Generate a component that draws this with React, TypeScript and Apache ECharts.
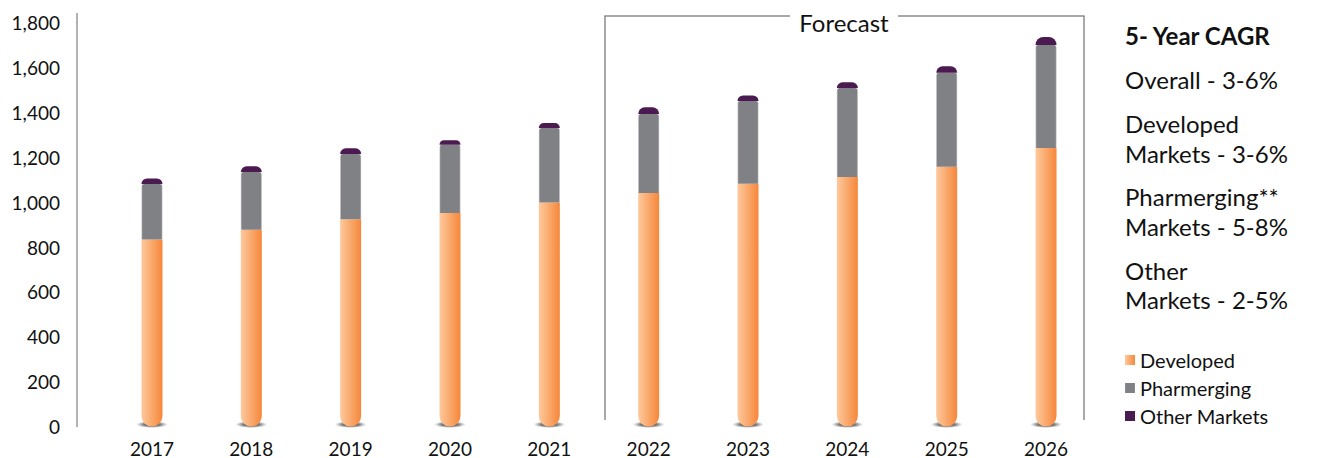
import React, { useEffect, useRef } from "react";
import * as echarts from "echarts";

const years = ["2017", "2018", "2019", "2020", "2021", "2022", "2023", "2024", "2025", "2026"];
const developed = [834, 877, 924, 952, 999, 1041, 1082, 1112, 1158, 1242];
const pharmerging = [247, 257, 291, 304, 332, 352, 369, 397, 419, 459];
const otherMarkets = [25, 26, 25, 20, 22, 30, 25, 25, 29, 35];
const baseShadow = [0, 0, 0, 0, 0, 0, 0, 0, 0, 0];
const seriesNames = ["Developed", "Pharmerging", "Other Markets"];
const cagrTitle = "5- Year CAGR";
const cagrLines = [
  "Overall - 3-6%",
  "Developed",
  "Markets - 3-6%",
  "Pharmerging**",
  "Markets - 5-8%",
  "Other",
  "Markets - 2-5%",
];
const forecastLabel = "Forecast";

const FONT = "Lato, 'Open Sans', sans-serif";

export default function App() {
  const ref = useRef<HTMLDivElement>(null);
  useEffect(() => {
    if (!ref.current) return;
    const chart = echarts.init(ref.current, null, { renderer: "svg" });
    const orange = new echarts.graphic.LinearGradient(0, 0, 1, 0, [
      { offset: 0, color: "#fdc99d" },
      { offset: 1, color: "#f6873a" },
    ]);
    const gray = new echarts.graphic.LinearGradient(0, 0, 1, 0, [
      { offset: 0, color: "#c4c4c6" },
      { offset: 0.06, color: "#808185" },
      { offset: 0.94, color: "#808185" },
      { offset: 1, color: "#c4c4c6" },
    ]);
    const purple = "#4b1a50";

    const cagrGraphics: any[] = [];
    cagrGraphics.push({
      type: "text",
      x: 1125,
      y: 35,
      style: { text: cagrTitle, font: `bold 24px ${FONT}`, fill: "#111", verticalAlign: "middle" },
    });
    const lineCenters = [79, 123, 153, 196, 226, 270, 299];
    cagrLines.forEach((line, i) => {
      cagrGraphics.push({
        type: "text",
        x: 1125,
        y: lineCenters[i],
        style: { text: line, font: `24px ${FONT}`, fill: "#111", verticalAlign: "middle" },
      });
    });

    const lineStyle = { stroke: "#8c8c8c", lineWidth: 1.5 };
    const option: any = {
      animation: false,
      textStyle: { fontFamily: FONT },
      grid: { left: 102.3, right: 229.3, top: 22.7, bottom: 31.5, containLabel: false },
      legend: {
        orient: "vertical",
        left: 1120,
        top: 345,
        itemWidth: 10,
        itemHeight: 10,
        itemGap: 8,
        icon: "rect",
        data: seriesNames,
        textStyle: { fontSize: 20, color: "#111", fontFamily: FONT },
      },
      xAxis: {
        type: "category",
        data: years,
        axisLine: { show: false },
        axisTick: { show: false },
        axisLabel: { fontSize: 19, color: "#111", margin: 12, fontFamily: FONT },
      },
      yAxis: {
        type: "value",
        min: 0,
        max: 1800,
        interval: 200,
        offset: 25.3,
        axisLine: { show: true, lineStyle: { color: "#9a9a9a", width: 1.5 } },
        axisTick: { show: false },
        splitLine: { show: false },
        axisLabel: {
          fontSize: 19,
          color: "#111",
          margin: 17,
          fontFamily: FONT,
          formatter: (v: number) => v.toLocaleString("en-US"),
        },
      },
      graphic: [
        { type: "line", shape: { x1: 77, y1: 13, x2: 77, y2: 23 }, style: { stroke: "#9a9a9a", lineWidth: 1.5 }, silent: true },
        { type: "line", shape: { x1: 605, y1: 16, x2: 605, y2: 420 }, style: lineStyle, silent: true },
        { type: "line", shape: { x1: 604.3, y1: 16, x2: 790, y2: 16 }, style: lineStyle, silent: true },
        { type: "line", shape: { x1: 898, y1: 16, x2: 1084.7, y2: 16 }, style: lineStyle, silent: true },
        { type: "line", shape: { x1: 1084, y1: 16, x2: 1084, y2: 420 }, style: lineStyle, silent: true },
        {
          type: "text",
          x: 844,
          y: 22,
          style: { text: forecastLabel, font: `24px ${FONT}`, fill: "#111", align: "center", verticalAlign: "middle" },
        },
        ...cagrGraphics,
      ],
      series: [
        {
          type: "scatter",
          data: baseShadow,
          symbol: "circle",
          symbolSize: [32, 7],
          symbolOffset: [0, -2],
          z: 1,
          silent: true,
          itemStyle: {
            color: new echarts.graphic.RadialGradient(0.5, 0.5, 0.5, [
              { offset: 0, color: "rgba(20,20,20,1)" },
              { offset: 0.55, color: "rgba(60,60,60,0.8)" },
              { offset: 1, color: "rgba(120,120,120,0)" },
            ]),
          },
        },
        {
          name: seriesNames[0],
          type: "bar",
          stack: "total",
          barWidth: 21,
          z: 3,
          data: developed,
          itemStyle: { color: orange, borderRadius: [0, 0, 10.5, 10.5] },
        },
        {
          name: seriesNames[1],
          type: "bar",
          stack: "total",
          barWidth: 21,
          z: 3,
          data: pharmerging,
          itemStyle: { color: gray, borderRadius: [3, 3, 0, 0] },
        },
        {
          name: seriesNames[2],
          type: "bar",
          stack: "total",
          barWidth: 21,
          z: 3,
          data: otherMarkets,
          itemStyle: { color: purple, borderRadius: [10.5, 10.5, 0, 0] },
        },
      ],
    };
    chart.setOption(option);
    return () => chart.dispose();
  }, []);
  return (
    <div
      ref={ref}
      style={{ position: "fixed", left: 0, top: 0, width: 1325, height: 458, background: "#fff" }}
    />
  );
}
